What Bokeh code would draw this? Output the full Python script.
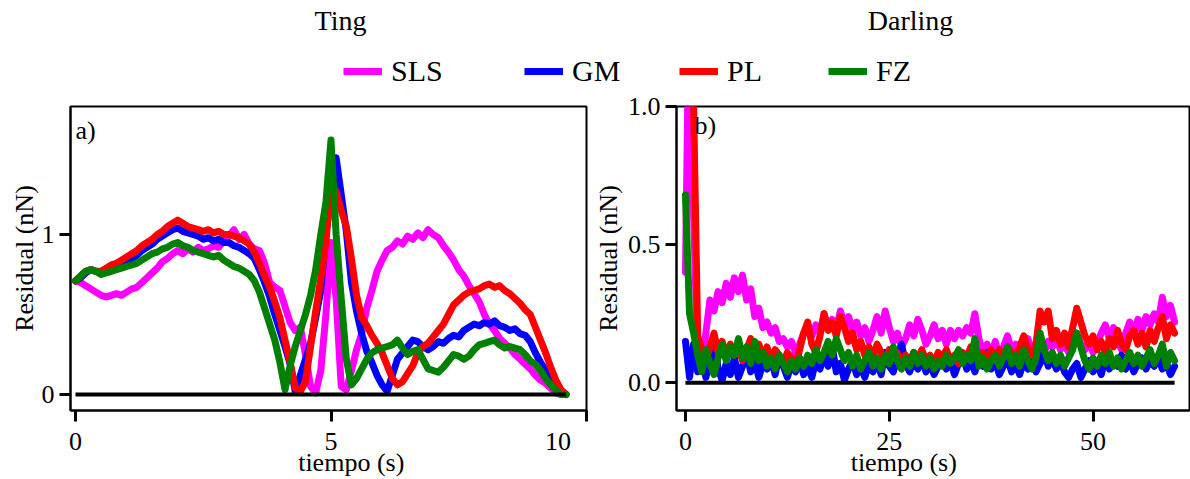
import numpy as np
from bokeh.plotting import figure
from bokeh.layouts import column, row
from bokeh.models import Range1d, FixedTicker, Label, Legend, LegendItem, PrintfTickFormatter
from bokeh.core.properties import value
from bokeh.embed import file_html
from bokeh.resources import INLINE

FONT = "'Liberation Serif', 'Times New Roman', serif"
NB = "\u00a0"

series_names = ["SLS", "GM", "PL", "FZ"]
series_colors = ["#ff00ff", "#0000ff", "#ff0000", "#008000"]
panel_titles = ["Ting", "Darling"]
panel_tags = ["a)", "b)"]
x_label = "tiempo (s)"
y_label = "Residual (nN)"
ting_xticks = [0, 5, 10]
ting_yticks = [0, 1]
darling_xticks = [0, 25, 50]
darling_yticks = [0.0, 0.5, 1.0]

# ---------------- Ting (sampled every 0.1 s) ----------------
ting_t = np.round(np.arange(97) * 0.1, 2)
ting_sls = [
    0.71, 0.70, 0.68, 0.66, 0.64, 0.62, 0.61, 0.62, 0.63, 0.62,
    0.64, 0.66, 0.67, 0.70, 0.73, 0.76, 0.79, 0.83, 0.85, 0.88,
    0.90, 0.88, 0.91, 0.89, 0.92, 0.90, 0.91, 0.93, 0.92, 0.96,
    0.99, 1.03, 0.97, 1.00, 0.94, 0.91, 0.90, 0.82, 0.70, 0.67,
    0.65, 0.55, 0.45, 0.40, 0.42, 0.25, 0.05, 0.01, 0.15, 0.50,
    0.95, 0.60, 0.05, 0.03, 0.15, 0.28, 0.38, 0.54, 0.65, 0.77,
    0.84, 0.90, 0.92, 0.96, 0.94, 0.99, 0.97, 1.01, 0.98, 1.03,
    1.00, 0.98, 0.93, 0.89, 0.84, 0.78, 0.74, 0.68, 0.63, 0.58,
    0.50, 0.44, 0.40, 0.35, 0.32, 0.29, 0.25, 0.22, 0.19, 0.16,
    0.12, 0.09, 0.07, 0.04, 0.01, 0.00, 0.00,
]
ting_gm = [
    0.71, 0.73, 0.76, 0.78, 0.77, 0.76, 0.77, 0.79, 0.80, 0.82,
    0.83, 0.85, 0.87, 0.90, 0.92, 0.94, 0.97, 0.99, 1.01, 1.03,
    1.04, 1.02, 1.01, 1.00, 0.99, 0.97, 0.98, 0.96, 0.97, 0.95,
    0.95, 0.93, 0.92, 0.90, 0.88, 0.85, 0.78, 0.70, 0.61, 0.50,
    0.40, 0.30, 0.19, 0.02, 0.12, 0.22, 0.32, 0.48, 0.65, 1.00,
    1.25, 1.48, 1.25, 1.02, 0.70, 0.52, 0.38, 0.27, 0.20, 0.12,
    0.06, 0.02, 0.12, 0.22, 0.26, 0.30, 0.34, 0.33, 0.30, 0.28,
    0.30, 0.33, 0.32, 0.35, 0.37, 0.36, 0.40, 0.42, 0.44, 0.43,
    0.45, 0.44, 0.46, 0.43, 0.42, 0.40, 0.41, 0.38, 0.37, 0.33,
    0.26, 0.20, 0.15, 0.09, 0.05, 0.02, 0.00,
]
ting_pl = [
    0.71, 0.74, 0.77, 0.78, 0.77, 0.77, 0.79, 0.81, 0.82, 0.84,
    0.86, 0.88, 0.90, 0.93, 0.95, 0.97, 1.00, 1.02, 1.05, 1.07,
    1.09, 1.07, 1.05, 1.04, 1.03, 1.02, 1.03, 1.01, 1.02, 1.00,
    1.00, 0.99, 0.98, 0.96, 0.94, 0.89, 0.82, 0.74, 0.67, 0.58,
    0.48, 0.34, 0.20, 0.04, 0.02, 0.08, 0.30, 0.52, 0.72, 0.95,
    1.32, 1.27, 1.15, 1.05, 0.85, 0.62, 0.48, 0.43, 0.37, 0.32,
    0.26, 0.18, 0.10, 0.06, 0.08, 0.13, 0.18, 0.26, 0.30, 0.32,
    0.36, 0.40, 0.44, 0.50, 0.56, 0.59, 0.62, 0.64, 0.65, 0.66,
    0.68, 0.69, 0.67, 0.68, 0.65, 0.63, 0.60, 0.57, 0.53, 0.50,
    0.42, 0.34, 0.26, 0.17, 0.09, 0.03, 0.00,
]
ting_fz = [
    0.71, 0.74, 0.77, 0.78, 0.77, 0.75, 0.76, 0.77, 0.78, 0.79,
    0.80, 0.81, 0.82, 0.84, 0.86, 0.88, 0.89, 0.91, 0.92, 0.94,
    0.95, 0.93, 0.92, 0.90, 0.89, 0.88, 0.87, 0.86, 0.87, 0.84,
    0.82, 0.80, 0.79, 0.77, 0.75, 0.71, 0.64, 0.54, 0.44, 0.34,
    0.20, 0.03, 0.18, 0.30, 0.40, 0.50, 0.62, 0.78, 1.00, 1.20,
    1.59, 1.00, 0.60, 0.22, 0.06, 0.10, 0.16, 0.22, 0.26, 0.28,
    0.29, 0.30, 0.31, 0.34, 0.29, 0.25, 0.27, 0.28, 0.22, 0.16,
    0.15, 0.14, 0.17, 0.21, 0.25, 0.24, 0.22, 0.24, 0.28, 0.31,
    0.32, 0.33, 0.34, 0.31, 0.29, 0.30, 0.29, 0.28, 0.25, 0.21,
    0.19, 0.15, 0.10, 0.06, 0.03, 0.00, 0.00,
]

# ---------------- Darling (sampled every 0.5 s) ----------------
darling_t = np.arange(121) * 0.5
darling_sls = [
    0.40, 1.50, 0.60, 0.10, 0.06, 0.18, 0.30, 0.26, 0.33, 0.29, 0.36, 0.31, 0.38, 0.33, 0.39, 0.30, 0.34, 0.24, 0.27, 0.20, 0.22,
    0.18, 0.20, 0.15, 0.16, 0.13, 0.15, 0.11, 0.14, 0.18, 0.20, 0.17, 0.21, 0.18, 0.25, 0.20, 0.23, 0.19, 0.26, 0.21, 0.24,
    0.19, 0.22, 0.17, 0.20, 0.15, 0.19, 0.24, 0.18, 0.26, 0.20, 0.15, 0.18, 0.13, 0.16, 0.21, 0.17, 0.23, 0.19, 0.14, 0.17,
    0.21, 0.16, 0.19, 0.14, 0.19, 0.16, 0.19, 0.17, 0.20, 0.18, 0.25, 0.16, 0.11, 0.14, 0.10, 0.15, 0.09, 0.13, 0.17, 0.12,
    0.14, 0.10, 0.13, 0.16, 0.12, 0.10, 0.14, 0.11, 0.15, 0.13, 0.16, 0.12, 0.14, 0.11, 0.15, 0.18, 0.14, 0.12, 0.15, 0.11,
    0.14, 0.18, 0.21, 0.16, 0.20, 0.15, 0.12, 0.18, 0.22, 0.17, 0.23, 0.19, 0.24, 0.21, 0.25, 0.22, 0.31, 0.24, 0.28, 0.22,
]
darling_gm = [
    0.15, 0.02, 0.14, 0.04, 0.10, 0.02, 0.08, 0.16, 0.05, 0.01, 0.07, 0.03, 0.09, 0.02, 0.06, 0.11, 0.04, 0.08, 0.02, 0.07, 0.05,
    0.09, 0.03, 0.10, 0.06, 0.02, 0.07, 0.04, 0.09, 0.03, 0.06, 0.02, 0.08, 0.05, 0.10, 0.06, 0.13, 0.04, 0.07, 0.01, 0.05,
    0.08, 0.03, 0.06, 0.02, 0.07, 0.04, 0.08, 0.03, 0.11, 0.06, 0.04, 0.09, 0.14, 0.07, 0.04, 0.08, 0.05, 0.09, 0.04, 0.07,
    0.03, 0.06, 0.09, 0.05, 0.08, 0.03, 0.07, 0.10, 0.05, 0.08, 0.04, 0.09, 0.06, 0.11, 0.05, 0.08, 0.03, 0.06, 0.09, 0.04,
    0.07, 0.03, 0.08, 0.05, 0.09, 0.04, 0.07, 0.11, 0.06, 0.09, 0.05, 0.08, 0.04, 0.02, 0.05, 0.07, 0.02, 0.05, 0.08, 0.04,
    0.07, 0.03, 0.09, 0.05, 0.08, 0.06, 0.10, 0.05, 0.08, 0.04, 0.07, 0.09, 0.05, 0.08, 0.06, 0.09, 0.05, 0.07, 0.03, 0.06,
]
darling_pl = [
    2.00, 1.60, 1.00, 0.17, 0.12, 0.08, 0.13, 0.18, 0.11, 0.15, 0.09, 0.14, 0.10, 0.13, 0.08, 0.12, 0.16, 0.11, 0.14, 0.09, 0.13,
    0.08, 0.12, 0.10, 0.07, 0.11, 0.09, 0.06, 0.12, 0.18, 0.22, 0.14, 0.11, 0.17, 0.25, 0.19, 0.22, 0.17, 0.24, 0.20, 0.15,
    0.18, 0.12, 0.15, 0.10, 0.13, 0.09, 0.14, 0.11, 0.08, 0.12, 0.09, 0.11, 0.07, 0.10, 0.08, 0.11, 0.09, 0.12, 0.08, 0.10,
    0.07, 0.11, 0.09, 0.12, 0.08, 0.10, 0.07, 0.11, 0.09, 0.13, 0.10, 0.08, 0.11, 0.09, 0.12, 0.08, 0.12, 0.10, 0.13, 0.11,
    0.09, 0.13, 0.17, 0.12, 0.10, 0.14, 0.26, 0.22, 0.26, 0.16, 0.19, 0.14, 0.18, 0.13, 0.20, 0.27, 0.22, 0.17, 0.14, 0.17,
    0.12, 0.15, 0.11, 0.16, 0.13, 0.19, 0.14, 0.12, 0.17, 0.19, 0.14, 0.18, 0.13, 0.19, 0.15, 0.20, 0.24, 0.16, 0.21, 0.18,
]
darling_fz = [
    0.68, 0.25, 0.18, 0.10, 0.04, 0.12, 0.07, 0.03, 0.09, 0.14, 0.08, 0.13, 0.10, 0.16, 0.09, 0.13, 0.07, 0.15, 0.08, 0.11, 0.06,
    0.09, 0.05, 0.10, 0.07, 0.04, 0.08, 0.05, 0.09, 0.06, 0.10, 0.07, 0.12, 0.08, 0.11, 0.15, 0.10, 0.16, 0.12, 0.08, 0.11,
    0.06, 0.10, 0.05, 0.08, 0.11, 0.06, 0.09, 0.05, 0.10, 0.07, 0.13, 0.08, 0.05, 0.09, 0.06, 0.11, 0.07, 0.10, 0.06, 0.09,
    0.05, 0.08, 0.06, 0.10, 0.07, 0.09, 0.12, 0.07, 0.10, 0.08, 0.16, 0.06, 0.09, 0.05, 0.08, 0.10, 0.06, 0.09, 0.13, 0.07,
    0.10, 0.06, 0.12, 0.08, 0.05, 0.09, 0.18, 0.12, 0.08, 0.11, 0.07, 0.10, 0.06, 0.09, 0.12, 0.18, 0.13, 0.08, 0.05, 0.09,
    0.06, 0.10, 0.07, 0.11, 0.06, 0.09, 0.05, 0.08, 0.11, 0.07, 0.10, 0.06, 0.09, 0.12, 0.07, 0.10, 0.14, 0.06, 0.11, 0.08,
]

ting_series = [ting_sls, ting_gm, ting_pl, ting_fz]
darling_series = [darling_sls, darling_gm, darling_pl, darling_fz]


def make_panel(t, series, xr, yr, xticks, yticks, width, borders, ystandoffs,
               xlab, ylab, tag, tag_xy):
    p = figure(width=width, height=387, x_range=Range1d(*xr), y_range=Range1d(*yr),
               output_backend="svg", toolbar_location=None,
               min_border_left=borders[0], min_border_right=borders[1],
               min_border_top=14, min_border_bottom=69)
    p.grid.visible = False
    p.outline_line_color = "black"
    p.outline_line_width = 2
    p.background_fill_color = "white"
    p.border_fill_color = "white"
    p.xaxis.ticker = FixedTicker(ticks=xticks)
    p.yaxis.ticker = FixedTicker(ticks=yticks)
    for ax in (p.xaxis[0], p.yaxis[0]):
        ax.axis_line_color = "black"
        ax.axis_line_width = 2
        ax.major_tick_in = 0
        ax.major_tick_out = 11
        ax.major_tick_line_width = 3
        ax.major_tick_line_color = "black"
        ax.minor_tick_line_color = None
        ax.major_label_text_font = FONT
        ax.major_label_text_font_size = "26px"
        ax.major_label_text_color = "black"
        ax.axis_label_text_font = FONT
        ax.axis_label_text_font_size = "26px"
        ax.axis_label_text_font_style = "normal"
        ax.axis_label_text_color = "black"
    p.xaxis.axis_label = xlab
    p.yaxis.axis_label = ylab
    p.xaxis.major_label_standoff = 5
    p.xaxis.axis_label_standoff = -11
    p.yaxis.major_label_standoff = ystandoffs[0]
    p.yaxis.axis_label_standoff = ystandoffs[1]

    for vals, col in zip(series, series_colors):
        p.line(t, vals, line_color=col, line_width=7, line_join="round", line_cap="round")
    p.line([t[0], t[-1]], [0, 0], line_color="black", line_width=4)

    p.add_layout(Label(x=tag_xy[0], y=tag_xy[1], text=tag, text_font=FONT, text_color="black",
                       text_font_size="26px", text_baseline="top"))
    return p


p1 = make_panel(ting_t, ting_series, (-0.098, 10.0), (-0.1, 1.8),
                ting_xticks, ting_yticks, 590, (70, 4), (5, 0),
                NB * 7 + x_label, y_label, panel_tags[0], (0.0, 1.74))
p1.xaxis.major_label_overrides = {10: "10" + NB * 3}
p2 = make_panel(darling_t, darling_series, (-1.1, 61.83), (-0.1, 1.0),
                darling_xticks, darling_yticks, 600, (83, 1), (5, 2),
                x_label + NB * 9, y_label, panel_tags[1], (1.1, 0.985))
p2.xaxis.major_label_overrides = {0: NB + "0" + NB}
p2.yaxis.formatter = PrintfTickFormatter(format="%.1f")

# ---------------- header: titles + legend ----------------
top = figure(width=1190, height=92, x_range=Range1d(0, 1190), y_range=Range1d(0, 92),
             output_backend="svg", toolbar_location=None, title=None,
             x_axis_location=None, y_axis_location=None, min_border=0)
top.grid.visible = False
top.outline_line_color = None
top.background_fill_color = "white"
top.border_fill_color = "white"
top.text(x=[340, 910], y=[72, 72], text=panel_titles, text_font=value(FONT),
         text_font_size="28px", text_align="center", text_baseline="middle",
         text_color="black")

legend_x = [343, 524, 679, 828]
for name, col, lx in zip(series_names, series_colors, legend_x):
    r = top.line(x=[np.nan], y=[np.nan], line_color=col, line_width=7)
    leg = Legend(items=[LegendItem(label=name, renderers=[r])], location=(lx, 4),
                 orientation="horizontal", padding=0, margin=0, spacing=0,
                 border_line_color=None, background_fill_alpha=0,
                 glyph_width=39, glyph_height=30, label_standoff=9,
                 label_text_font=FONT, label_text_font_size="30px",
                 label_text_color="black", label_height=30)
    top.add_layout(leg)

layout = column(top, row(p1, p2))
open("out.html", "w").write(file_html(layout, INLINE))
